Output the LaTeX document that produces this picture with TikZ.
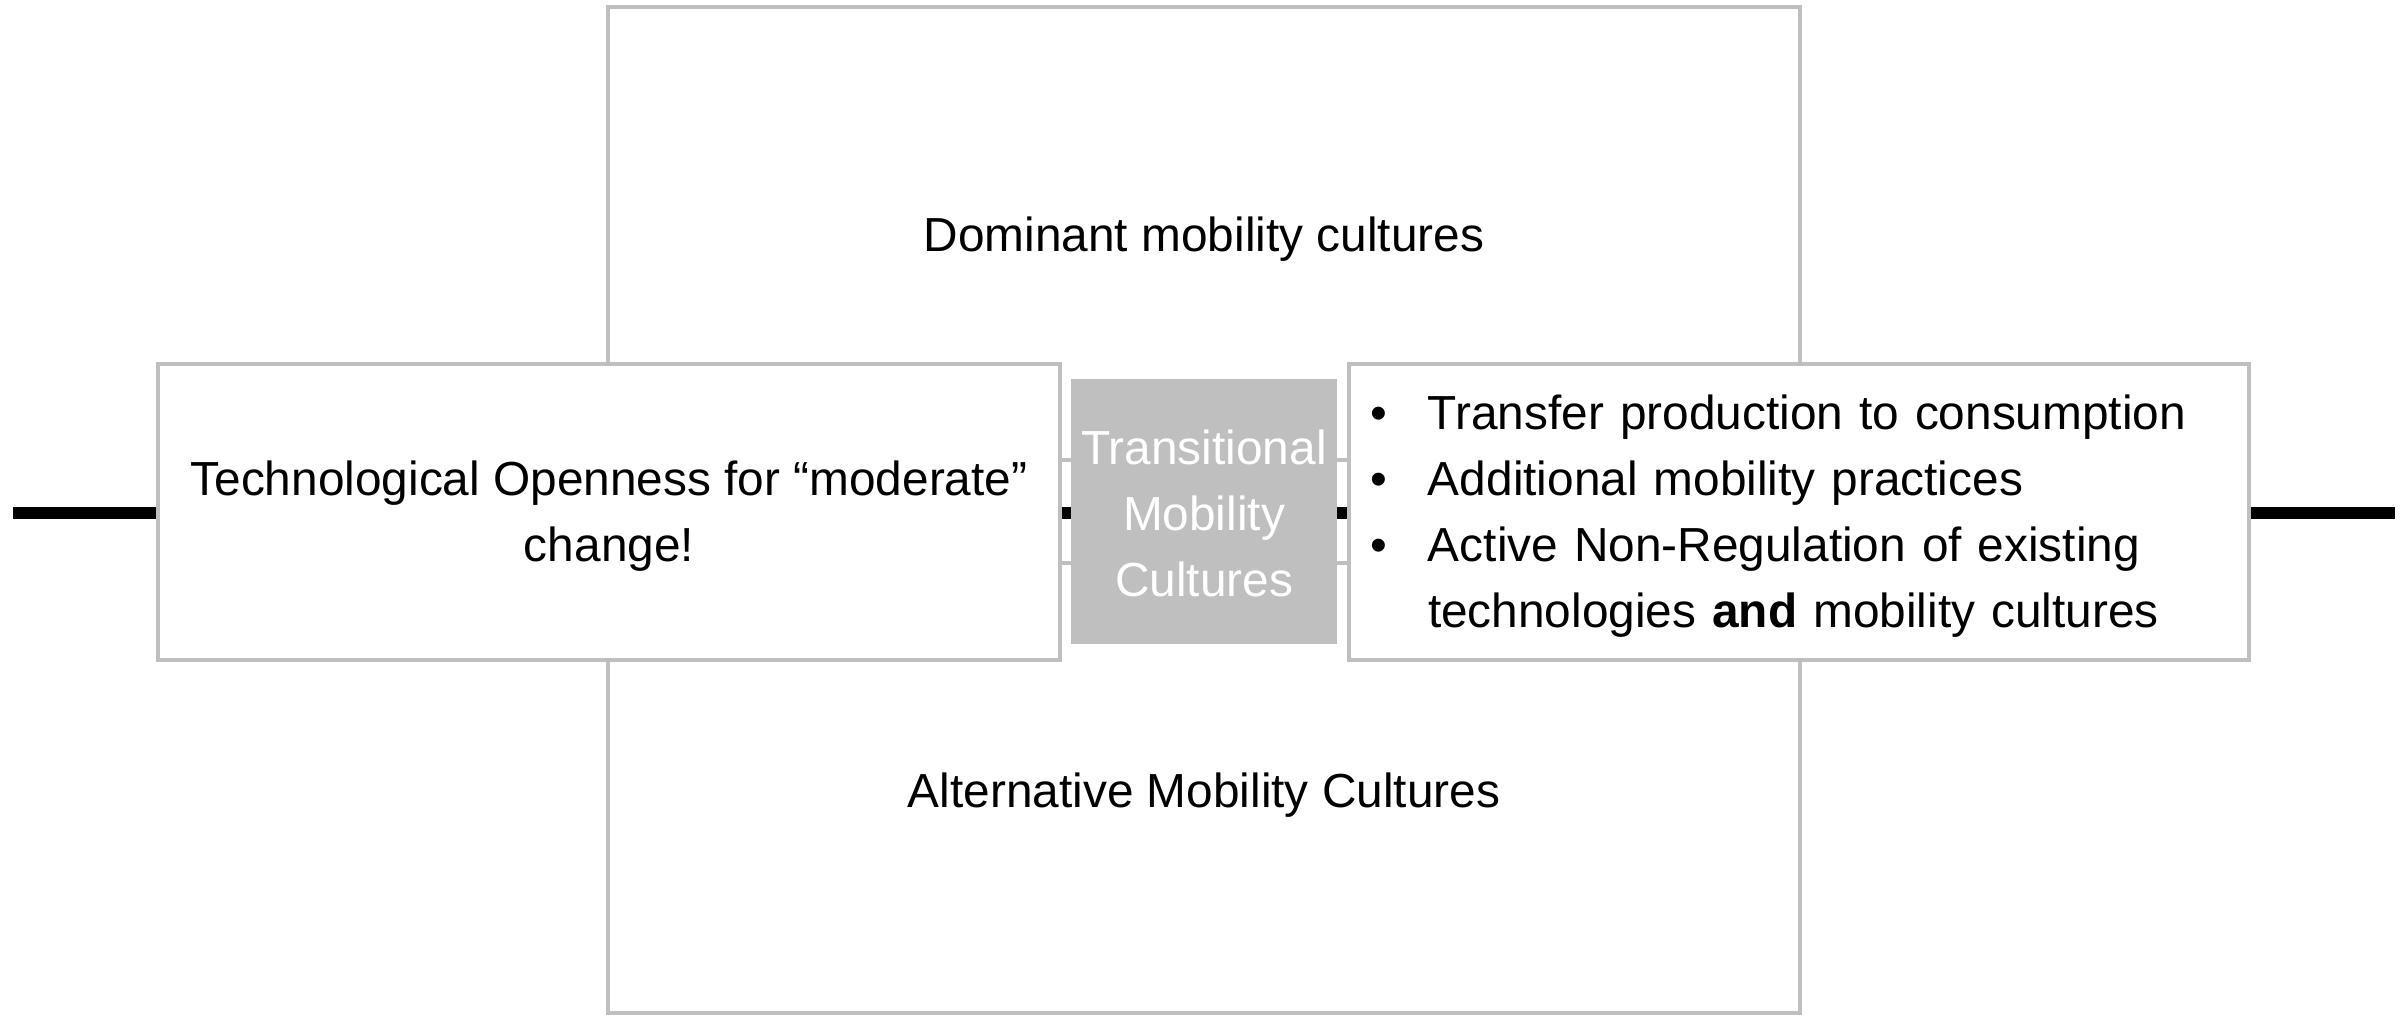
\documentclass[tikz,border=0pt]{standalone}
\usepackage{fontspec}
\setmainfont{Liberation Sans}
\definecolor{framegray}{RGB}{191,191,191}
\newcommand{\bul}{\makebox[0.58cm][l]{\textbullet}}
\begin{document}
\begin{tikzpicture}[
  frame/.style={draw=framegray, line width=1.4pt, fill=white, inner sep=0pt},
  txt/.style={font=\fontsize{13.6}{18.8}\selectfont, yshift=-0.045cm}]
  \useasboundingbox (0,0) rectangle (24.07,10.16);
  % vertical bar of the cross
  \node[frame, minimum width=11.92cm, minimum height=10.06cm] (cross) at (12.04,5.06) {};
  \node[txt] (dominant) at (12.04,7.81) {Dominant mobility cultures};
  \node[txt] (alternative) at (12.04,2.255) {Alternative Mobility Cultures};
  % horizontal band and axis
  \node[frame, fill=none, minimum width=11.9cm, minimum height=1.03cm] (band) at (12.04,5.045) {};
  \coordinate (lend) at (0.13,5.03);
  \coordinate (rend) at (23.95,5.03);
  \draw[line width=3.4pt] (lend) -- (rend);
  % the three boxes
  \node[frame, minimum width=9.02cm, minimum height=2.96cm] (techopen) at (6.09,5.04) {};
  \node[txt, align=center] (techtext) at (techopen) {Technological Openness for “moderate”\\change!};
  \node[fill=framegray, minimum width=2.66cm, minimum height=2.65cm, inner sep=0pt]
    (transitional) at (12.04,5.045) {};
  \node[txt, text=white, align=center, yshift=0.03cm] (transtext) at (transitional)
    {Transitional\\Mobility\\Cultures};
  \node[frame, minimum width=9cm, minimum height=2.96cm] (measures) at (17.99,5.04) {};
  \node[txt, text width=8.58cm, inner xsep=0pt, align=left] (meastext) at (measures)
    {\bul Transfer production to consumption\\
     \bul Additional mobility practices\\
     \bul Active Non-Regulation of existing\\
     \hspace*{0.58cm}technologies \textbf{and} mobility cultures};
\end{tikzpicture}
\end{document}
